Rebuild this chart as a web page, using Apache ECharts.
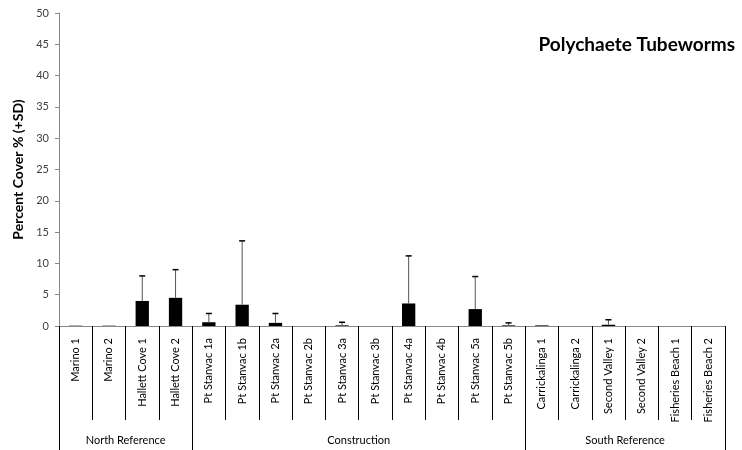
<!DOCTYPE html>
<html>
<head>
<meta charset="utf-8">
<script src="https://cdn.jsdelivr.net/npm/echarts@6/dist/echarts.min.js"></script>
<style>
  html, body { margin: 0; padding: 0; background: #fff; }
  #chart { width: 742px; height: 450px; }
</style>
</head>
<body>
<div id="chart"></div>
<script>
// Sites along the coast, in survey order
const sites = [
  'Marino 1', 'Marino 2', 'Hallett Cove 1', 'Hallett Cove 2',
  'Pt Stanvac 1a', 'Pt Stanvac 1b', 'Pt Stanvac 2a', 'Pt Stanvac 2b',
  'Pt Stanvac 3a', 'Pt Stanvac 3b', 'Pt Stanvac 4a', 'Pt Stanvac 4b',
  'Pt Stanvac 5a', 'Pt Stanvac 5b',
  'Carrickalinga 1', 'Carrickalinga 2', 'Second Valley 1', 'Second Valley 2',
  'Fisheries Beach 1', 'Fisheries Beach 2'
];
// Mean percent cover and standard deviation per site
const meanCover = [0.05, 0.05, 4.0, 4.5, 0.6, 3.4, 0.5, 0, 0.1, 0, 3.6, 0, 2.7, 0.1, 0.1, 0, 0.2, 0, 0, 0];
const sdCover   = [0, 0, 4.0, 4.5, 1.4, 10.2, 1.5, 0, 0.5, 0, 7.6, 0, 5.2, 0.4, 0, 0, 0.8, 0, 0, 0];
// Site groups: names, boundaries (in site counts) and label centres
const groupNames = ['North Reference', 'Construction', 'South Reference'];
const groupBounds = [0, 4, 14, 20];
const groupCentres = [2, 9, 17];
const yTicks = { min: 0, max: 50, step: 5 };

const font = 'Lato, "Open Sans", sans-serif';
const chart = echarts.init(document.getElementById('chart'));

const errorData = sites.map((s, i) => [i, meanCover[i], meanCover[i] + sdCover[i], sdCover[i]]);

chart.setOption({
  animation: false,
  backgroundColor: '#fff',
  title: {
    text: 'Polychaete Tubeworms',
    right: 2,
    top: 30,
    textStyle: { fontFamily: font, fontSize: 19, fontWeight: 'bold', color: '#000' }
  },
  grid: { left: 59, right: 17, top: 13, bottom: 124, containLabel: false },
  xAxis: [
    {
      type: 'category',
      data: sites,
      boundaryGap: true,
      axisLine: { show: true, lineStyle: { color: '#888', width: 1 } },
      axisTick: { show: true, length: 94, lineStyle: { color: '#000', width: 1 } },
      axisLabel: {
        rotate: 90,
        interval: 0,
        margin: 12,
        fontFamily: font,
        fontSize: 11,
        color: '#000'
      }
    },
    {
      type: 'value',
      position: 'bottom',
      min: 0,
      max: groupBounds[groupBounds.length - 1],
      axisLine: { show: false },
      splitLine: { show: false },
      axisTick: {
        show: true,
        length: 124,
        customValues: groupBounds,
        lineStyle: { color: '#000', width: 1 }
      },
      axisLabel: {
        customValues: groupCentres,
        margin: 109,
        fontFamily: font,
        fontSize: 11,
        color: '#000',
        formatter: v => groupNames[groupCentres.indexOf(v)] || ''
      }
    }
  ],
  yAxis: {
    type: 'value',
    min: yTicks.min,
    max: yTicks.max,
    interval: yTicks.step,
    name: 'Percent Cover % (+SD)',
    nameLocation: 'middle',
    nameGap: 33,
    nameTextStyle: { fontFamily: font, fontSize: 14, fontWeight: 'bold', color: '#000' },
    axisLine: { show: true, lineStyle: { color: '#888', width: 1 } },
    axisTick: { show: true, length: 4, lineStyle: { color: '#888' } },
    splitLine: { show: false },
    axisLabel: { fontFamily: font, fontSize: 11, color: '#404040', margin: 10 }
  },
  series: [
    {
      type: 'bar',
      data: meanCover,
      barWidth: '40%',
      itemStyle: { color: '#000' },
      z: 2
    },
    {
      type: 'custom',
      data: errorData,
      z: 3,
      renderItem: function (params, api) {
        if (api.value(3) <= 0) return null;
        const x = api.value(0);
        const base = api.coord([x, api.value(1)]);
        const top = api.coord([x, api.value(2)]);
        const cap = 3;
        return {
          type: 'group',
          children: [
            {
              type: 'line',
              shape: { x1: base[0], y1: base[1], x2: top[0], y2: top[1] },
              style: { stroke: '#555', lineWidth: 1 }
            },
            {
              type: 'line',
              shape: { x1: top[0] - cap, y1: top[1], x2: top[0] + cap, y2: top[1] },
              style: { stroke: '#000', lineWidth: 1.5 }
            }
          ]
        };
      }
    }
  ]
});
</script>
</body>
</html>
